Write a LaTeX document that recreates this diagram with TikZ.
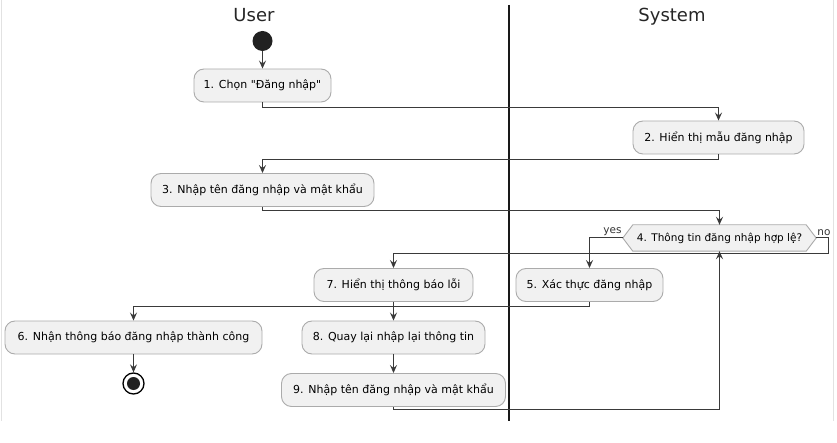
\documentclass[tikz,border=0pt]{standalone}
\usepackage{fontspec}
\setmainfont{DejaVu Sans}[Ligatures=TeXOff]
\usetikzlibrary{arrows.meta,calc}
\definecolor{boxfill}{HTML}{F1F1F1}
\definecolor{boxline}{HTML}{ABABAB}
\definecolor{lineC}{HTML}{3A3A3A}
\definecolor{frameC}{HTML}{E2E2E2}
\tikzset{
  act/.style={draw=boxline, fill=boxfill, rounded corners=10pt, line width=0.9pt,
    minimum height=33pt, inner sep=0pt, font=\fontsize{11}{13}\selectfont, text=black},
  conn/.style={draw=lineC, line width=1pt, -{Stealth[length=8pt,width=7pt,inset=3pt]}},
  lane/.style={font=\fontsize{18}{21}\selectfont, text=black!85, anchor=base},
  guard/.style={font=\fontsize{10.5}{12}\selectfont, text=black!80, inner sep=0pt},
}
\begin{document}
\begin{tikzpicture}[x=1pt,y=-1pt]
\useasboundingbox (0,0) rectangle (837,443);
\fill[white] (0,0) rectangle (837,443);
% faint frame of screenshot
\draw[frameC, line width=1pt] (1.5,0) -- (1.5,421);
\draw[frameC, line width=1pt] (833,0) -- (833,421);
% lane titles and divider
\node[lane] (tUser) at (254,22) {User};
\node[lane] (tSys) at (672,22) {System};
\draw[black!90, line width=1.1pt] (509,5) -- (509,421);
% start
\node[circle, fill=black!87, minimum size=20pt, inner sep=0pt] (start) at (262.5,41) {};
% activities
\node[act, minimum width=137pt] (n1) at (262.5,85.5) {1. Chọn "Đăng nhập"};
\node[act, minimum width=171pt] (n2) at (718.5,137.5) {2. Hiển thị mẫu đăng nhập};
\node[act, minimum width=223pt] (n3) at (262.5,190) {3. Nhập tên đăng nhập và mật khẩu};
% decision
\node[inner sep=0pt, minimum width=173pt, minimum height=26pt, font=\fontsize{10.5}{12}\selectfont] (d4) at (719.5,238) {4. Thông tin đăng nhập hợp lệ?};
\coordinate (d4l) at ($(d4.west)+(-10,0)$);
\coordinate (d4r) at ($(d4.east)+(10,0)$);
\draw[draw=boxline, fill=boxfill, line width=0.9pt] (d4.north west) -- (d4.north east) -- (d4r) -- (d4.south east) -- (d4.south west) -- (d4l) -- cycle;
\node[inner sep=0pt, font=\fontsize{10.5}{12}\selectfont] at (d4) {4. Thông tin đăng nhập hợp lệ?};
\node[act, minimum width=147pt] (n5) at (589.5,285) {5. Xác thực đăng nhập};
\node[act, minimum width=159pt] (n7) at (393.5,285) {7. Hiển thị thông báo lỗi};
\node[act, minimum width=257pt] (n6) at (133.5,337.5) {6. Nhận thông báo đăng nhập thành công};
\node[act, minimum width=183pt] (n8) at (393.5,337.5) {8. Quay lại nhập lại thông tin};
\node[act, minimum width=224pt] (n9) at (393.5,390) {9. Nhập tên đăng nhập và mật khẩu};
% end
\node[circle, draw=black, line width=1.3pt, fill=white, minimum size=21pt, inner sep=0pt] (endc) at (133.5,383.5) {};
\fill[black!87] (endc.center) circle (6.5pt);
% guards
\node[guard, anchor=south east] (gyes) at ($(d4l)+(-1,-2.5)$) {yes};
\node[guard, anchor=south west] (gno) at ($(d4r)+(1,-2.5)$) {no};
% connectors
\draw[conn] (start) -- (n1);
\draw[conn] (n1.south) -- ++(0,5) -| (n2.north);
\draw[conn] (n2.south) -- ++(0,5) -| (n3.north);
\draw[conn] (n3.south) -- ++(0,4) -| (d4.north);
\draw[conn] (d4l) -| (n5.north);
\draw[conn] (d4r) -- ++(12,0) -- ++(0,16) -| (n7.north);
\draw[conn] (n5.south) -- ++(0,5) -| (n6.north);
\draw[conn] (n7) -- (n8);
\draw[conn] (n8) -- (n9);
\draw[conn] (n9.south) -- ++(0,3) -| (d4.south);
\draw[conn] (n6) -- (endc);
\end{tikzpicture}
\end{document}
